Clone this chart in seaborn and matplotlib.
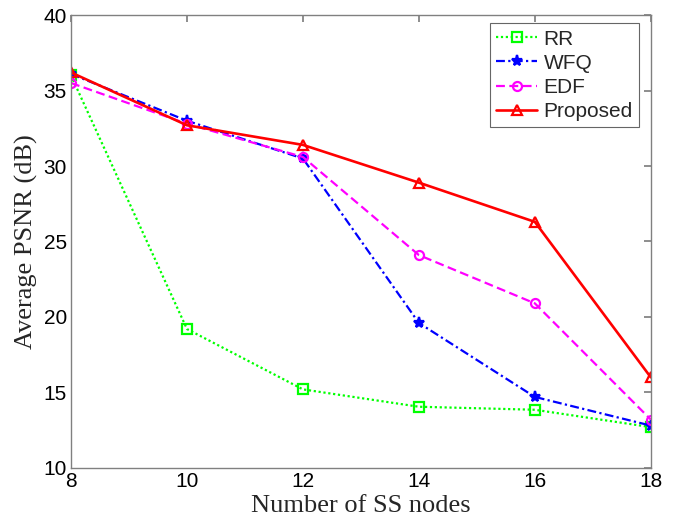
import matplotlib as mpl
import matplotlib.pyplot as plt
import seaborn as sns
import pandas as pd

nodes = [8, 10, 12, 14, 16, 18]
rr = [36.0, 19.2, 15.2, 14.05, 13.85, 12.7]
wfq = [36.1, 33.0, 30.5, 19.6, 14.7, 12.8]
edf = [35.5, 32.8, 30.6, 24.1, 20.9, 13.2]
proposed = [36.2, 32.7, 31.4, 28.9, 26.3, 16.0]
schemes = ["RR", "WFQ", "EDF", "Proposed"]

sns.set_theme(style="white")
mpl.rcParams.update({
    "font.family": ["Liberation Sans", "DejaVu Sans"],
    "axes.edgecolor": "#808080",
    "axes.linewidth": 1.0,
    "xtick.direction": "in",
    "ytick.direction": "in",
    "xtick.top": True,
    "ytick.right": True,
    "xtick.color": "#808080",
    "ytick.color": "#808080",
    "xtick.labelcolor": "black",
    "ytick.labelcolor": "black",
    "xtick.major.size": 5,
    "ytick.major.size": 5,
})

df = pd.DataFrame({
    "nodes": nodes * 4,
    "psnr": rr + wfq + edf + proposed,
    "scheme": [s for s in schemes for _ in nodes],
})

palette = {"RR": "#00ff00", "WFQ": "#0000ff", "EDF": "#ff00ff", "Proposed": "#ff0000"}
markers = {"RR": "s", "WFQ": "*", "EDF": "o", "Proposed": "^"}
dashes = {"RR": (1, 1.2), "WFQ": (4, 1.5, 1, 1.5), "EDF": (4, 2), "Proposed": ""}
widths = {"RR": 1.6, "WFQ": 1.6, "EDF": 1.6, "Proposed": 1.9}

fig = plt.figure(figsize=(6.73, 5.21), dpi=100)
ax = fig.add_axes([0.1055, 0.102, 0.8615, 0.869])

for s in schemes:
    sub = df[df["scheme"] == s]
    filled = s == "WFQ"
    sns.lineplot(
        data=sub, x="nodes", y="psnr", ax=ax, label=s,
        color=palette[s], marker=markers[s], dashes=False,
        linewidth=widths[s], markersize=8 if s == "WFQ" else 6.5,
        markerfacecolor=palette[s] if filled else "none",
        markeredgecolor=palette[s], markeredgewidth=1.6,
    )
    if dashes[s]:
        ax.lines[-1].set_dashes(dashes[s])

ax.set_xlim(8, 18)
ax.set_ylim(10, 40)
ax.set_xticks(nodes)
ax.set_yticks(range(10, 41, 5))
ax.tick_params(axis="both", labelsize=15, pad=3)
ax.set_xlabel("Number of SS nodes", fontsize=19, family=["Liberation Serif"], labelpad=3)
ax.set_ylabel("Average PSNR (dB)", fontsize=19, family=["Liberation Serif"], labelpad=4)

leg = ax.legend(loc="upper right", fontsize=15, frameon=True, fancybox=False,
                edgecolor="#404040", borderpad=0.3, labelspacing=0.25,
                handlelength=2.0, handletextpad=0.3, borderaxespad=0,
                bbox_to_anchor=(0.98, 0.982))
leg.get_frame().set_linewidth(0.8)

fig.savefig("out.png", dpi=100)
